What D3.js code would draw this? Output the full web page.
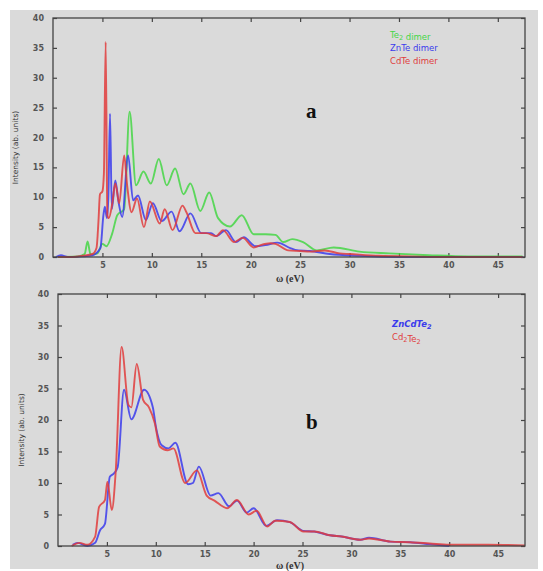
<!DOCTYPE html>
<html>
<head>
<meta charset="utf-8">
<script src="https://cdnjs.cloudflare.com/ajax/libs/d3/7.8.5/d3.min.js"></script>
<style>
  body { margin: 0; background: #fff; }
  svg { display: block; }
</style>
</head>
<body>
<div id="chart"></div>
<script>
// panel a : dimers
const te2Omega = [0.5, 2.5, 3.2, 3.5, 3.8, 4.5, 5.0, 5.4, 6.0, 6.5, 7.2, 7.75, 8.4, 9.15, 9.9, 10.7, 11.5, 12.35, 13.2, 13.9, 14.9, 15.8, 16.7, 17.9, 19.1, 20.3, 21.5, 22.5, 23.3, 24.2, 25.3, 26.7, 28.4, 31, 34, 38, 42, 47.5];
const te2Intensity = [0, 0.1, 0.5, 2.6, 0.4, 0.6, 2.2, 1.8, 4, 7, 8, 24.3, 12, 14.3, 12.3, 16.4, 12, 14.8, 10.5, 12.3, 7.7, 10.8, 6.5, 5.1, 7, 3.8, 3.8, 3.7, 2.5, 3, 2.5, 1.1, 1.6, 0.9, 0.6, 0.3, 0.1, 0.1];

const znteOmega = [0.3, 0.8, 1.5, 3, 4, 4.8, 5.1, 5.25, 5.45, 5.6, 5.77, 5.95, 6.3, 6.65, 7.0, 7.6, 8.1, 8.6, 9.4, 10.1, 11, 12, 12.8, 13.9, 15, 16, 16.5, 17.5, 18.5, 19.3, 20.5, 21.5, 22.7, 24, 24.5, 26, 28, 31, 35, 47.5];
const znteIntensity = [0, 0.3, 0, 0.1, 0.3, 1.5, 7, 8.4, 6.5, 10, 24, 8, 12.8, 9, 6.7, 17, 9.5, 10.3, 6.2, 9, 6, 7.6, 4.3, 7.3, 4, 4, 3.5, 4.5, 2.5, 3.3, 1.8, 2, 2.4, 1.5, 1.2, 1, 0.5, 0.2, 0, 0];

const cdteOmega = [0.5, 2, 3, 4, 4.4, 4.6, 4.75, 5.0, 5.15, 5.33, 5.5, 5.65, 6.0, 6.3, 6.7, 7.2, 7.5, 7.95, 8.5, 9.2, 9.8, 10.8, 11.3, 12.1, 13.1, 13.5, 14.4, 15.5, 16.5, 17.2, 18.3, 19.2, 20.3, 21, 22, 22.5, 23.8, 25, 26, 27.5, 29, 30, 33, 36, 40, 47.5];
const cdteIntensity = [0, 0, 0.2, 0.5, 1.5, 6, 10.5, 11, 14, 36, 7, 6.5, 9, 12.3, 9, 17, 12, 7.5, 9.8, 5, 9.3, 5.6, 8, 4.5, 8.6, 7.5, 4, 4, 3.5, 4.5, 2.5, 3.2, 1.6, 2, 2.3, 2.2, 1.1, 1, 0.9, 1.1, 0.6, 0.5, 0.2, 0.1, 0, 0];

// panel b : clusters
const zncdte2Omega = [1.5, 2.0, 3.0, 3.8, 4.3, 4.8, 5.3, 5.7, 6.1, 6.75, 7.5, 8.8, 9.7, 10.0, 10.6, 11.3, 12.0, 13.3, 13.8, 14.4, 15.6, 16.4, 17.5, 18.3, 19.3, 20.0, 21.3, 22.4, 23.7, 25.1, 26.2, 27.8, 29, 30.9, 31.8, 34, 36, 38, 40];
const zncdte2Intensity = [0.2, 0.5, 0, 0.5, 2.5, 3.5, 11, 11.5, 12.5, 24.8, 20.1, 24.8, 22, 19, 16, 15.5, 16.4, 9.8, 10, 12.6, 8, 8.4, 6.3, 7.2, 5.3, 6, 3.2, 4.1, 3.8, 2.4, 2.3, 1.7, 1.5, 1, 1.3, 0.7, 0.6, 0.3, 0];

const cd2te2Omega = [1.4, 2.2, 3.0, 3.8, 4.2, 4.8, 5.05, 5.5, 5.9, 6.5, 7.2, 7.5, 8.05, 8.7, 9.3, 9.9, 10.4, 11.2, 11.8, 13.0, 14.2, 15.2, 16, 17.3, 18.3, 19.5, 20.3, 21.4, 22.2, 23.7, 25.1, 26.2, 27.8, 29, 30.9, 31.8, 34, 36, 38, 40, 44, 47.75];
const cd2te2Intensity = [0, 0.5, 0.2, 1.5, 6.2, 7.3, 10.2, 5.7, 11.8, 31.6, 22.4, 22, 28.9, 23.2, 22, 19.5, 15.8, 15.2, 15.5, 10, 12, 8, 7.2, 6, 7.3, 5, 5.6, 3.1, 4, 3.8, 2.3, 2.3, 1.7, 1.5, 1, 1.2, 0.7, 0.6, 0.4, 0.2, 0.2, 0.1];

const xTicks = [5, 10, 15, 20, 25, 30, 35, 40, 45];
const yTicks = [0, 5, 10, 15, 20, 25, 30, 35, 40];

const green = "#45d645", blue = "#3b3bec", red = "#e03c3c";

const W = 543, H = 571;
const svg = d3.select("#chart").append("svg")
    .attr("width", W).attr("height", H);

svg.append("rect").attr("x", 10).attr("y", 10).attr("width", 528).attr("height", 559)
  .attr("fill", "#dadada");

function drawPanel(box, series, legend, letter) {
  const x = d3.scaleLinear().domain([0, 47.75]).range([box.left, box.right]);
  const y = d3.scaleLinear().domain([0, 40]).range([box.bottom, box.top]);

  // inward ticks on all four sides
  svg.append("g")
    .attr("transform", `translate(0,${box.bottom})`)
    .call(d3.axisBottom(x).tickValues(xTicks).tickSizeInner(-4).tickSizeOuter(0).tickPadding(5))
    .call(g => g.select(".domain").remove());
  svg.append("g")
    .attr("transform", `translate(0,${box.top})`)
    .call(d3.axisTop(x).tickValues(xTicks).tickSizeInner(-4).tickSizeOuter(0).tickFormat(""))
    .call(g => g.select(".domain").remove());
  svg.append("g")
    .attr("transform", `translate(${box.left},0)`)
    .call(d3.axisLeft(y).tickValues(yTicks).tickSizeInner(-4).tickSizeOuter(0).tickPadding(9))
    .call(g => g.select(".domain").remove());
  svg.append("g")
    .attr("transform", `translate(${box.right},0)`)
    .call(d3.axisRight(y).tickValues(yTicks).tickSizeInner(-4).tickSizeOuter(0).tickFormat(""))
    .call(g => g.select(".domain").remove());

  svg.selectAll(".tick line").attr("stroke", "#444").attr("stroke-width", 1.2);
  svg.selectAll(".tick text")
    .attr("font-family", "DejaVu Sans")
    .attr("font-size", 8)
    .attr("font-weight", "bold")
    .attr("fill", "#555");

  const line = d3.line()
    .x(d => x(d[0]))
    .y(d => y(d[1]))
    .curve(d3.curveMonotoneX);

  series.forEach(s => {
    svg.append("path")
      .datum(d3.zip(s.omega, s.intensity))
      .attr("fill", "none")
      .attr("stroke", s.color)
      .attr("stroke-width", 1.9)
      .attr("stroke-opacity", 0.85)
      .attr("stroke-linejoin", "round")
      .attr("d", line);
  });

  svg.append("rect")
    .attr("x", box.left).attr("y", box.top)
    .attr("width", box.right - box.left).attr("height", box.bottom - box.top)
    .attr("fill", "none").attr("stroke", "#444").attr("stroke-width", 1.3);

  // legend
  legend.forEach((l, i) => {
    const t = svg.append("text")
      .attr("x", box.legendX).attr("y", box.legendY + i * 13)
      .attr("font-family", "DejaVu Sans").attr("font-size", 8.5)
      .attr("font-weight", l.italic ? "bold" : "normal")
      .attr("font-style", l.italic ? "italic" : "normal")
      .attr("fill", l.color);
    l.parts.forEach(p => {
      if (p.sub) {
        t.append("tspan").attr("font-size", 6.5).attr("dy", 2).text(p.sub);
        t.append("tspan").attr("dy", -2).text("");
      } else {
        t.append("tspan").text(p.text);
      }
    });
  });

  svg.append("text")
    .attr("x", letter.x).attr("y", letter.y)
    .attr("font-family", "Liberation Serif").attr("font-weight", "bold")
    .attr("font-size", 21).attr("fill", "#111")
    .text(letter.text);

  svg.append("text")
    .attr("transform", `translate(${box.ylabelX},${(box.top + box.bottom) / 2 + 10}) rotate(-90)`)
    .attr("text-anchor", "middle")
    .attr("font-family", "DejaVu Sans").attr("font-size", 7.5)
    .attr("fill", "#333")
    .text("Intensity (ab. units)");

  svg.append("text")
    .attr("x", 290).attr("y", box.bottom + box.titleDy)
    .attr("text-anchor", "middle")
    .attr("font-family", "Liberation Serif").attr("font-weight", "bold")
    .attr("font-size", 10).attr("fill", "#333")
    .text("ω (eV)");
}

drawPanel(
  {left: 53, right: 525, top: 18, bottom: 257, legendX: 390, legendY: 38, ylabelX: 18, titleDy: 25},
  [
    {omega: te2Omega, intensity: te2Intensity, color: green},
    {omega: znteOmega, intensity: znteIntensity, color: blue},
    {omega: cdteOmega, intensity: cdteIntensity, color: red}
  ],
  [
    {color: green, parts: [{text: "Te"}, {sub: "2"}, {text: " dimer"}]},
    {color: blue, parts: [{text: "ZnTe dimer"}]},
    {color: red, parts: [{text: "CdTe dimer"}]}
  ],
  {text: "a", x: 306, y: 118}
);

drawPanel(
  {left: 58, right: 525, top: 294, bottom: 546, legendX: 392, legendY: 327, ylabelX: 24, titleDy: 23},
  [
    {omega: zncdte2Omega, intensity: zncdte2Intensity, color: blue},
    {omega: cd2te2Omega, intensity: cd2te2Intensity, color: red}
  ],
  [
    {color: blue, italic: true, parts: [{text: "ZnCdTe"}, {sub: "2"}]},
    {color: red, italic: false, parts: [{text: "Cd"}, {sub: "2"}, {text: "Te"}, {sub: "2"}]}
  ],
  {text: "b", x: 306, y: 429}
);
</script>
</body>
</html>
